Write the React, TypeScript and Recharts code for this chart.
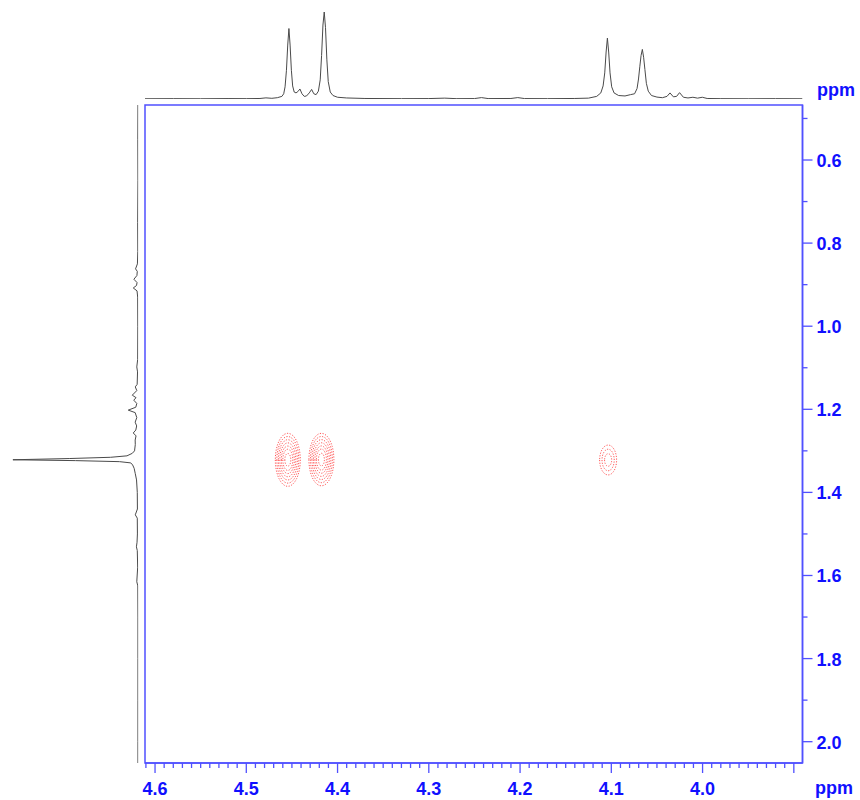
import React from 'react';
import { ComposedChart, Scatter, XAxis, YAxis, ReferenceArea } from 'recharts';

// ---- axis domains (ppm) ----
const F2_DOMAIN: [number, number] = [3.8905, 4.611];
const F1_DOMAIN: [number, number] = [0.4676, 2.0513];

// ---- tick labels ----
const X_MAJOR = [4.6, 4.5, 4.4, 4.3, 4.2, 4.1, 4.0, 3.9];
const X_LABELS = ['4.6', '4.5', '4.4', '4.3', '4.2', '4.1', '4.0', ''];
const Y_MAJOR = [0.6, 0.8, 1.0, 1.2, 1.4, 1.6, 1.8, 2.0];
const Y_LABELS = ['0.6', '0.8', '1.0', '1.2', '1.4', '1.6', '1.8', '2.0'];

// ---- top (F2) 1D projection ----
const TOP_PPM = [
  4.611, 4.58, 4.55, 4.52, 4.5, 4.485, 4.4785, 4.472, 4.466, 4.461, 4.459, 4.4575, 4.456, 4.4546, 4.4533,
  4.452, 4.4506, 4.4492, 4.4475, 4.4455, 4.4435, 4.4412, 4.439, 4.4365, 4.434, 4.431, 4.4284, 4.426,
  4.4235, 4.421, 4.419, 4.4175, 4.416, 4.4146, 4.4132, 4.4117, 4.4102, 4.408, 4.405, 4.4, 4.39, 4.37,
  4.33, 4.3, 4.2825, 4.27, 4.25, 4.2423, 4.235, 4.21, 4.2025, 4.195, 4.17, 4.14, 4.125, 4.116, 4.1115,
  4.109, 4.1072, 4.1057, 4.1043, 4.1029, 4.1014, 4.0996, 4.097, 4.092, 4.085, 4.079, 4.0745, 4.0718,
  4.0702, 4.0688, 4.0674, 4.066, 4.0646, 4.0632, 4.0616, 4.0595, 4.056, 4.05, 4.044, 4.039, 4.0357,
  4.032, 4.0285, 4.0252, 4.021, 4.016, 4.0106, 4.0055, 4.0003, 3.995, 3.98, 3.95, 3.92, 3.8905,
];
const TOP_INT = [
  0.3, 0.4, 0.3, 0.5, 0.4, 0.6, 1.3, 0.8, 1.5, 3, 6, 14, 33, 62, 81,
  62, 33, 15, 8, 7, 8.5, 11.5, 6, 3, 3.5, 7, 11, 6,
  5, 9, 22, 50, 85, 100, 82, 45, 20, 8, 4, 2, 1.2, 0.6,
  0.4, 0.5, 1, 0.4, 0.5, 1.6, 0.5, 0.6, 1.6, 0.5, 0.4, 0.6, 1, 3, 7,
  15, 30, 54, 70, 54, 30, 14, 7, 4, 3.5, 5, 6, 12,
  23, 37, 50, 57, 48, 34, 18, 9, 4, 2.2, 1.5, 3, 7,
  2.5, 3, 7.3, 2, 1.2, 2, 1, 2, 0.6, 0.4, 0.3, 0.4, 0.3,
];

// ---- left (F1) 1D projection ----
const LEFT_PPM = [
  0.4676, 0.55, 0.65, 0.75, 0.82, 0.85, 0.862, 0.868, 0.878, 0.887, 0.895, 0.902, 0.908, 0.915, 0.93,
  1.0, 1.08, 1.098, 1.11, 1.14, 1.146, 1.155, 1.166, 1.172, 1.178, 1.186, 1.195, 1.202, 1.208, 1.22,
  1.231, 1.24, 1.25, 1.257, 1.264, 1.274, 1.285, 1.3, 1.306, 1.312, 1.3155, 1.3185, 1.3215, 1.3235,
  1.326, 1.329, 1.334, 1.342, 1.355, 1.37, 1.4, 1.44, 1.454, 1.462, 1.5, 1.52, 1.531, 1.54, 1.58,
  1.615, 1.625, 1.7, 1.8, 1.9, 2.0, 2.0513,
];
const LEFT_INT = [
  0.3, 0.4, 0.3, 0.5, 0.4, 0.7, 2.2, 0.8, 1.1, 3.5, 1, 1.4, 4, 1, 0.5,
  0.4, 0.5, 1.2, 0.6, 0.9, 2.4, 1.2, 4.8, 1.8, 3.6, 1.2, 2, 8, 2.5, 1.2,
  2.5, 1.3, 2, 4, 1.8, 2.5, 2.4, 3, 4.8, 9, 22, 55, 100, 50,
  15, 6, 4.5, 3.3, 2.4, 1.4, 0.8, 0.7, 2.4, 0.8, 0.7, 1, 1.5, 0.8, 0.5,
  1.2, 0.4, 0.3, 0.3, 0.3, 0.3, 0.3,
];

// ---- 2D cross peaks (centre, semi-axes in ppm, contour levels) ----
const PEAK_F2 = [4.4545, 4.4177, 4.1035];
const PEAK_F1 = [1.3216, 1.321, 1.322];
const PEAK_RX = [0.0137, 0.0137, 0.0093];
const PEAK_RY = [0.0638, 0.0632, 0.036];
const PEAK_LEVELS = [
  [1, 0.88, 0.76, 0.64, 0.52, 0.4, 0.24],
  [1, 0.88, 0.76, 0.64, 0.52, 0.4, 0.24],
  [1, 0.72, 0.42],
];

const TEXT_BLUE = '#1010ff';
const LINE_BLUE = '#5050ff';
const TRACE = '#4a4a4a';
const FONT = '"Liberation Sans", Arial, Helvetica, sans-serif';

const topData = TOP_PPM.map((p, i) => ({ x: p, y: TOP_INT[i] }));
const leftData = LEFT_PPM.map((p, i) => ({ x: LEFT_INT[i], y: p }));

const contourRings: { x: number; y: number }[][] = [];
PEAK_F2.forEach((cx, k) => {
  PEAK_LEVELS[k].forEach((lv) => {
    const pts: { x: number; y: number }[] = [];
    const n = 48;
    for (let j = 0; j <= n; j++) {
      const a = (2 * Math.PI * j) / n;
      pts.push({ x: cx + PEAK_RX[k] * lv * Math.cos(a), y: PEAK_F1[k] + PEAK_RY[k] * lv * Math.sin(a) });
    }
    contourRings.push(pts);
  });
});

const X_TICKS: number[] = [];
for (let i = 390; i <= 461; i++) X_TICKS.push(i / 100);
const Y_TICKS: number[] = [];
for (let i = 5; i <= 20; i++) Y_TICKS.push(i / 10);

const findMajor = (arr: number[], v: number) => arr.findIndex((m) => Math.abs(m - v) < 1e-6);

const XTick = (props: any) => {
  const { x, y, payload } = props;
  const idx = findMajor(X_MAJOR, payload.value);
  const major = idx >= 0;
  return (
    <g>
      <line x1={x} x2={x} y1={y} y2={y + (major ? 10 : 5)} stroke={LINE_BLUE} strokeWidth={1.3} />
      {major && X_LABELS[idx] ? (
        <text x={x} y={y + 31.5} textAnchor="middle" fill={TEXT_BLUE} fontFamily={FONT} fontWeight="bold" fontSize={18}>
          {X_LABELS[idx]}
        </text>
      ) : null}
    </g>
  );
};

const YTick = (props: any) => {
  const { x, y, payload } = props;
  const idx = findMajor(Y_MAJOR, payload.value);
  const major = idx >= 0;
  return (
    <g>
      <line x1={x} x2={x + (major ? 10 : 5)} y1={y} y2={y} stroke={LINE_BLUE} strokeWidth={1.3} />
      {major ? (
        <text x={x + 14} y={y + 7} textAnchor="start" fill={TEXT_BLUE} fontFamily={FONT} fontWeight="bold" fontSize={18}>
          {Y_LABELS[idx]}
        </text>
      ) : null}
    </g>
  );
};

const noShape = () => <g />;

export default function App() {
  return (
    <div style={{ position: 'absolute', left: 0, top: 0, width: 860, height: 800, background: '#fff' }}>
      <div style={{ position: 'absolute', left: 0, top: 0 }}>
        <ComposedChart width={860} height={800} margin={{ top: 105, left: 145, right: 7.5, bottom: 7 }}>
          <XAxis
            type="number"
            dataKey="x"
            domain={F2_DOMAIN}
            reversed
            allowDataOverflow
            ticks={X_TICKS}
            interval={0}
            tickSize={0}
            tickMargin={0}
            tickLine={false}
            tick={XTick}
            axisLine={{ stroke: LINE_BLUE, strokeWidth: 1.5 }}
            height={30}
          />
          <YAxis
            type="number"
            dataKey="y"
            orientation="right"
            domain={F1_DOMAIN}
            reversed
            allowDataOverflow
            ticks={Y_TICKS}
            interval={0}
            tickSize={0}
            tickMargin={0}
            tickLine={false}
            tick={YTick}
            axisLine={{ stroke: LINE_BLUE, strokeWidth: 1.5 }}
            width={50}
          />
          <ReferenceArea
            x1={F2_DOMAIN[0]}
            x2={F2_DOMAIN[1]}
            y1={F1_DOMAIN[0]}
            y2={F1_DOMAIN[1]}
            fill="none"
            fillOpacity={0}
            stroke={LINE_BLUE}
            strokeWidth={1.5}
            ifOverflow="visible"
          />
          {contourRings.map((ring, i) => (
            <Scatter
              key={'c' + i}
              data={ring}
              shape={noShape}
              line={{ stroke: '#ff2a2a', strokeWidth: 1, strokeDasharray: '1.2 1.5', strokeOpacity: 0.8 }}
              isAnimationActive={false}
              legendType="none"
            />
          ))}
        </ComposedChart>
      </div>

      <div style={{ position: 'absolute', left: 0, top: 0 }}>
        <ComposedChart width={860} height={100} margin={{ top: 12, left: 145, right: 57.5, bottom: 1 }}>
          <XAxis type="number" dataKey="x" domain={F2_DOMAIN} reversed hide allowDataOverflow />
          <YAxis type="number" dataKey="y" domain={[0, 100]} hide allowDataOverflow />
          <Scatter
            data={topData}
            shape={noShape}
            line={{ stroke: TRACE, strokeWidth: 1 }}
            isAnimationActive={false}
            legendType="none"
          />
        </ComposedChart>
      </div>

      <div style={{ position: 'absolute', left: 0, top: 0 }}>
        <ComposedChart width={145} height={800} margin={{ top: 105, left: 12.7, right: 6.7, bottom: 37 }}>
          <XAxis type="number" dataKey="x" domain={[0, 100]} reversed hide allowDataOverflow />
          <YAxis type="number" dataKey="y" domain={F1_DOMAIN} reversed hide allowDataOverflow />
          <Scatter
            data={leftData}
            shape={noShape}
            line={{ stroke: TRACE, strokeWidth: 1 }}
            isAnimationActive={false}
            legendType="none"
          />
        </ComposedChart>
      </div>

      <svg width={860} height={800} style={{ position: 'absolute', left: 0, top: 0, pointerEvents: 'none' }}>
        <text x={817} y={95.5} fill={TEXT_BLUE} fontFamily={FONT} fontWeight="bold" fontSize={18}>
          ppm
        </text>
        <text x={815} y={794} fill={TEXT_BLUE} fontFamily={FONT} fontWeight="bold" fontSize={18}>
          ppm
        </text>
      </svg>
    </div>
  );
}
